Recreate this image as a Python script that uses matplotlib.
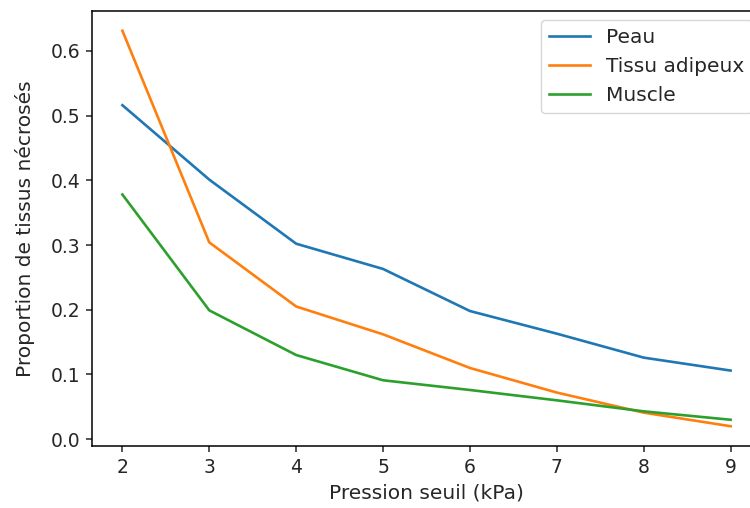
import matplotlib
matplotlib.use("Agg")
import matplotlib.pyplot as plt

pression = [2, 3, 4, 5, 6, 7, 8, 9]
peau = [0.516, 0.401, 0.302, 0.263, 0.198, 0.163, 0.126, 0.106]
tissu_adipeux = [0.631, 0.304, 0.205, 0.162, 0.110, 0.072, 0.041, 0.020]
muscle = [0.378, 0.199, 0.130, 0.091, 0.076, 0.060, 0.043, 0.030]

FS_TICK = 13.5
FS_LABEL = 14.5
plt.rcParams.update({
    "axes.linewidth": 1.1,
    "xtick.major.size": 4.3,
    "ytick.major.size": 4.3,
    "xtick.major.pad": 4.3,
    "ytick.major.pad": 4.3,
    "xtick.major.width": 1.1,
    "ytick.major.width": 1.1,
    "text.color": "#262626",
    "axes.labelcolor": "#262626",
    "xtick.color": "#262626",
    "ytick.color": "#262626",
})

fig = plt.figure(figsize=(7.5, 5.08), dpi=100)
ax = fig.add_axes([92 / 750, 62 / 508, 669 / 750, 435 / 508])

ax.plot(pression, peau, color="#1f77b4", lw=1.9, label="Peau")
ax.plot(pression, tissu_adipeux, color="#ff7f0e", lw=1.9, label="Tissu adipeux")
ax.plot(pression, muscle, color="#2ca02c", lw=1.9, label="Muscle")

ax.set_xlabel("Pression seuil (kPa)", fontsize=FS_LABEL, labelpad=5)
ax.set_ylabel("Proportion de tissus nécrosés", fontsize=FS_LABEL, labelpad=11)
ax.tick_params(labelsize=FS_TICK)
ax.legend(loc="upper right", fontsize=14.5, borderaxespad=0.45)

fig.savefig("out.png", dpi=100)
